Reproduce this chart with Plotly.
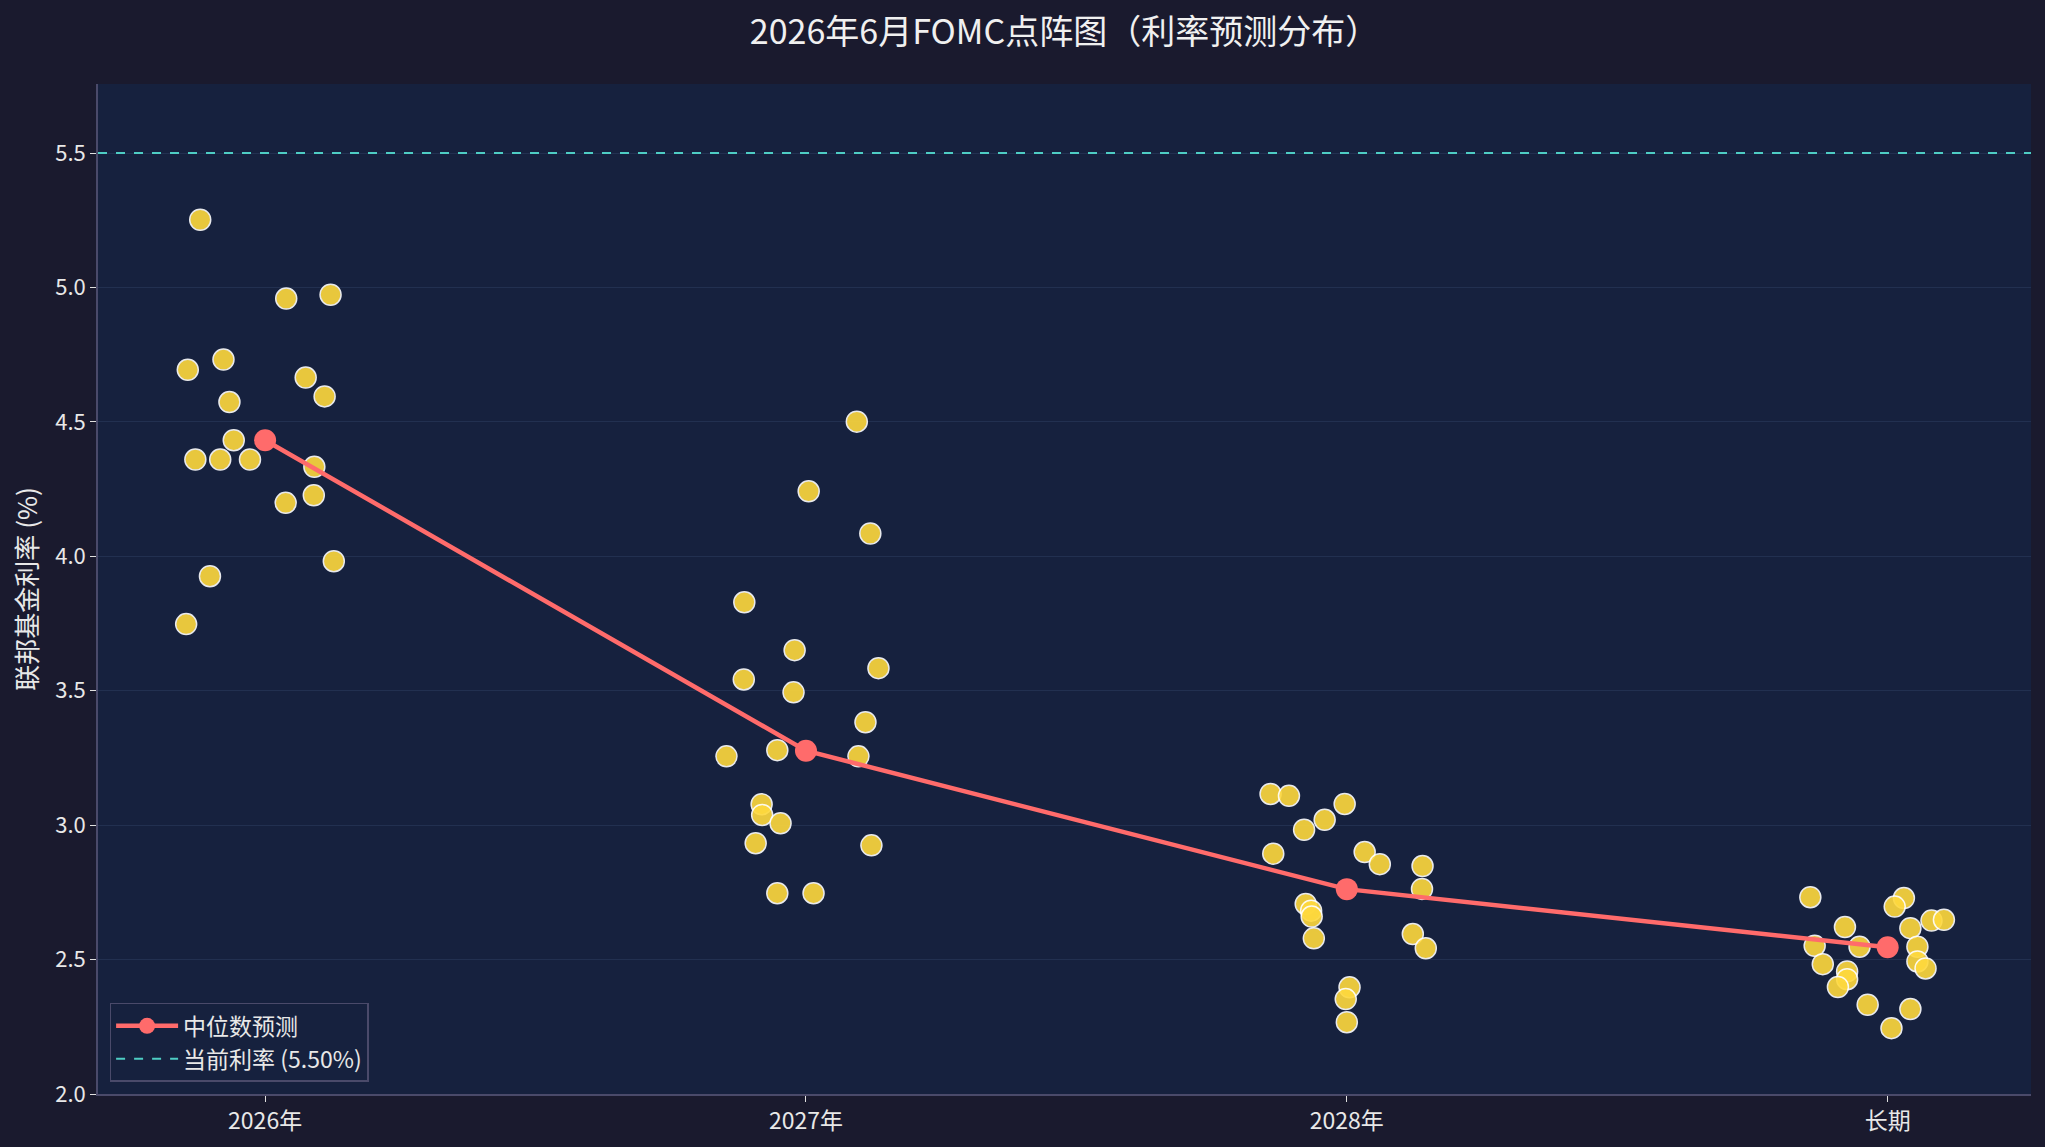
import plotly.graph_objects as go

categories = ["2026年", "2027年", "2028年", "长期"]
tick_vals = [0, 1, 2, 3]
y_ticks = [2.0, 2.5, 3.0, 3.5, 4.0, 4.5, 5.0, 5.5]
current_rate = 5.5

# jittered x offsets and rates for each horizon
x_2026 = [-0.120, 0.039, 0.121, -0.143, -0.077, 0.075, 0.110, -0.066, -0.058,
          -0.129, -0.083, -0.028, 0.091, 0.090, 0.038, 0.127, -0.102, -0.146]
y_2026 = [5.252, 4.959, 4.973, 4.694, 4.732, 4.665, 4.595, 4.574, 4.432,
          4.360, 4.360, 4.360, 4.333, 4.227, 4.199, 3.982, 3.926, 3.748]

x_2027 = [0.094, 0.005, 0.119, -0.114, -0.021, -0.115, 0.134, -0.023, 0.110, -0.147,
          -0.053, 0.097, -0.082, -0.081, -0.047, -0.093, 0.121, -0.053, 0.014]
y_2027 = [4.501, 4.242, 4.085, 3.829, 3.651, 3.542, 3.584, 3.494, 3.383, 3.256,
          3.279, 3.256, 3.078, 3.038, 3.007, 2.933, 2.925, 2.747, 2.747]

x_2028 = [-0.141, -0.107, -0.004, -0.041, -0.079, -0.136, 0.033, 0.061, 0.140, 0.139,
          -0.076, -0.066, -0.065, -0.061, 0.122, 0.146, 0.005, -0.002, 0.000]
y_2028 = [3.116, 3.109, 3.079, 3.020, 2.983, 2.894, 2.900, 2.855, 2.848, 2.763,
          2.707, 2.682, 2.660, 2.579, 2.595, 2.542, 2.397, 2.353, 2.267]

x_long = [-0.143, 0.030, 0.013, -0.079, 0.042, 0.081, 0.104, -0.135, -0.052, 0.055,
          -0.120, 0.055, 0.070, -0.075, -0.075, -0.092, -0.037, 0.042, 0.007]
y_long = [2.732, 2.729, 2.697, 2.621, 2.617, 2.645, 2.648, 2.551, 2.548, 2.548,
          2.483, 2.493, 2.467, 2.456, 2.427, 2.398, 2.332, 2.316, 2.245]

median_vals = [4.432, 3.277, 2.762, 2.546]

x_range = [-0.309, 3.265]
y_range = [2.0, 5.757]

FONT = "Noto Sans CJK SC"
fig = go.Figure()

groups = [(x_2026, y_2026), (x_2027, y_2027), (x_2028, y_2028), (x_long, y_long)]
for i, (xs, ys) in enumerate(groups):
    fig.add_trace(go.Scatter(
        x=[tick_vals[i] + dx for dx in xs], y=ys, mode="markers",
        marker=dict(size=21, color="#ffd93d", opacity=0.9,
                    line=dict(color="white", width=1.5)),
        showlegend=False, hoverinfo="y"))

fig.add_trace(go.Scatter(
    x=tick_vals, y=median_vals, mode="lines+markers", name="中位数预测",
    line=dict(color="#ff6b6b", width=4.5),
    marker=dict(size=22, color="#ff6b6b")))

fig.add_trace(go.Scatter(
    x=x_range, y=[current_rate, current_rate], mode="lines",
    name="当前利率 (5.50%)",
    line=dict(color="#4ecdc4", width=2, dash="dash")))

fig.update_layout(
    width=2045, height=1147,
    paper_bgcolor="#1a1a2e", plot_bgcolor="#16213e",
    margin=dict(l=98, r=14, t=84, b=53),
    font=dict(family=FONT, color="#e8e8e8", size=22),
    title=dict(text="2026年6月FOMC点阵图（利率预测分布）", x=0.5, xref="paper", xanchor="center",
               y=0.972, yanchor="middle", font=dict(size=34, color="#f0f0f0", family=FONT)),
    legend=dict(x=0.006, y=0.012, xanchor="left", yanchor="bottom",
                bgcolor="#16213e", bordercolor="#4a4a6a", borderwidth=1.5,
                itemwidth=62, tracegroupgap=4,
                font=dict(size=23, color="#e8e8e8", family=FONT)),
    showlegend=True,
)
fig.update_xaxes(range=x_range, tickvals=tick_vals, ticktext=categories,
                 showgrid=False, zeroline=False, showline=True, linecolor="#4a4a6a",
                 linewidth=1.5, ticks="outside", ticklen=6, tickcolor="#e0e0e0",
                 tickfont=dict(size=23, color="#e8e8e8"))
fig.update_yaxes(range=y_range, tickvals=y_ticks, tickformat=".1f",
                 showgrid=True, gridcolor="#223050", gridwidth=1, zeroline=False,
                 showline=True, linecolor="#4a4a6a", linewidth=1.5,
                 ticks="outside", ticklen=6, tickcolor="#e0e0e0",
                 tickfont=dict(size=22, color="#e8e8e8"),
                 title=dict(text="联邦基金利率 (%)", font=dict(size=26, color="#e8e8e8"), standoff=10))

fig.write_html("out.html")
